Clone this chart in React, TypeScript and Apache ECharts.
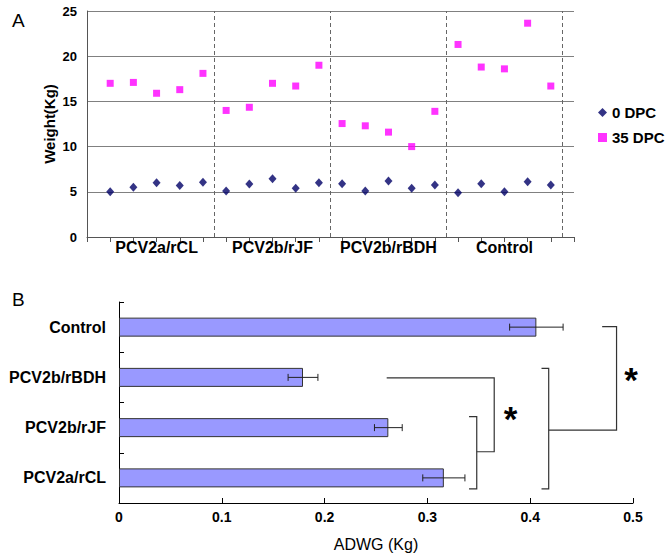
import React, { useEffect, useRef } from "react";
import * as echarts from "echarts";

// ---------- Panel A data ----------
const groups = ["PCV2a/rCL", "PCV2b/rJF", "PCV2b/rBDH", "Control"];
const groupCenters = [3, 8, 13, 18];
const separators = [5.5, 10.5, 15.5, 20.5];
const pigIndex = [1, 2, 3, 4, 5, 6, 7, 8, 9, 10, 11, 12, 13, 14, 15, 16, 17, 18, 19, 20];
const dpc0 = [5.0, 5.5, 6.0, 5.7, 6.05, 5.1, 5.85, 6.45, 5.4, 6.0, 5.9, 5.1, 6.2, 5.4, 5.75, 4.9, 5.9, 5.0, 6.1, 5.75];
const dpc35 = [17.0, 17.1, 15.9, 16.3, 18.1, 14.0, 14.35, 17.0, 16.7, 19.0, 12.55, 12.3, 11.6, 10.0, 13.9, 21.3, 18.8, 18.6, 23.65, 16.7];

// ---------- Panel B data ----------
const adwgCategories = ["PCV2a/rCL", "PCV2b/rJF", "PCV2b/rBDH", "Control"];
const adwgMean = [0.316, 0.262, 0.179, 0.406];
const adwgErr = [0.0205, 0.0135, 0.0145, 0.026];

// significance brackets, in data units (x: ADWG, y: category position)
const bracketPaths = [
  [[0.3405, 1.22], [0.348, 1.22], [0.348, -0.22], [0.3405, -0.22]],
  [[0.348, 0.52], [0.365, 0.52], [0.365, 1.99], [0.2604, 1.99]],
  [[0.411, 2.18], [0.418, 2.18], [0.418, -0.22], [0.411, -0.22]],
  [[0.418, 0.95], [0.484, 0.95], [0.484, 3.01], [0.47, 3.01]],
];
const starPoints = [[0.381, 1.24], [0.498, 2.01]];

const FONT = "'Liberation Sans', Arial, sans-serif";

export default function App() {
  const ref = useRef<HTMLDivElement>(null);
  useEffect(() => {
    if (!ref.current) return;
    const chart = echarts.init(ref.current, undefined, { renderer: "svg" });
    const option: any = {
      animation: false,
      textStyle: { fontFamily: FONT },
      graphic: [
        { type: "text", left: 12, top: 11, style: { text: "A", fontSize: 19, fontFamily: FONT, fill: "#000" } },
        { type: "text", left: 12, top: 290, style: { text: "B", fontSize: 19, fontFamily: FONT, fill: "#000" } },
        {
          type: "text",
          x: 49,
          y: 124,
          rotation: Math.PI / 2,
          style: {
            text: "Weight(Kg)",
            fontSize: 15,
            fontWeight: "bold",
            fontFamily: FONT,
            fill: "#000",
            align: "center",
            verticalAlign: "middle",
          },
        },
      ],
      legend: {
        orient: "vertical",
        left: 593,
        top: 100,
        itemWidth: 9,
        itemHeight: 9,
        itemGap: 10,
        textStyle: { fontSize: 15, fontWeight: "bold", color: "#000", fontFamily: FONT },
        data: ["0 DPC", "35 DPC"],
      },
      grid: [
        { left: 87, top: 11, width: 487, height: 226 },
        { left: 119, top: 302, width: 514, height: 201 },
      ],
      xAxis: [
        {
          type: "value",
          gridIndex: 0,
          min: 0,
          max: 21,
          interval: 1,
          axisLine: { show: true, onZero: false, lineStyle: { color: "#555" } },
          axisTick: { show: true, inside: false, length: 5, lineStyle: { color: "#555" } },
          splitLine: { show: false },
          axisLabel: {
            margin: 2,
            fontSize: 16,
            fontWeight: "bold",
            color: "#000",
            fontFamily: FONT,
            formatter: (v: number) => {
              const i = groupCenters.indexOf(v);
              return i >= 0 ? groups[i] : "";
            },
          },
        },
        {
          type: "value",
          gridIndex: 1,
          min: 0,
          max: 0.5,
          interval: 0.1,
          axisLine: { show: true, onZero: false, lineStyle: { color: "#000" } },
          axisTick: { show: true, inside: true, length: 5, lineStyle: { color: "#000" } },
          splitLine: { show: false },
          axisLabel: { margin: 7, fontSize: 14, fontWeight: "bold", color: "#000", fontFamily: FONT },
          name: "ADWG (Kg)",
          nameLocation: "middle",
          nameGap: 33,
          nameTextStyle: { fontSize: 16, color: "#000", fontFamily: FONT },
        },
      ],
      yAxis: [
        {
          type: "value",
          gridIndex: 0,
          min: 0,
          max: 25,
          interval: 5,
          axisLine: { show: true, lineStyle: { color: "#555" } },
          axisTick: { show: false },
          splitLine: { show: true, lineStyle: { color: "#808080" } },
          axisLabel: { margin: 10, fontSize: 13, fontWeight: "bold", color: "#000", fontFamily: FONT },
        },
        {
          type: "category",
          gridIndex: 1,
          data: adwgCategories,
          axisLine: { show: true, onZero: false, lineStyle: { color: "#000" } },
          axisTick: { show: true, inside: true, length: 5, alignWithLabel: false, lineStyle: { color: "#000" } },
          axisLabel: { margin: 13, fontSize: 16, fontWeight: "bold", color: "#000", fontFamily: FONT },
        },
        {
          type: "value",
          gridIndex: 1,
          min: -0.5,
          max: 3.5,
          show: false,
          axisLine: { show: false, onZero: false },
        },
      ],
      series: [
        {
          name: "0 DPC",
          type: "scatter",
          xAxisIndex: 0,
          yAxisIndex: 0,
          symbol: "diamond",
          symbolSize: [8, 9],
          itemStyle: { color: "#000066" },
          data: pigIndex.map((x, i) => [x, dpc0[i]]),
          markLine: {
            silent: true,
            symbol: "none",
            label: { show: false },
            lineStyle: { color: "#666", type: [4, 3], width: 1 },
            data: separators.map((v) => ({ xAxis: v })),
          },
        },
        {
          name: "35 DPC",
          type: "scatter",
          xAxisIndex: 0,
          yAxisIndex: 0,
          symbol: "rect",
          symbolSize: 7,
          itemStyle: { color: "#ff00ff" },
          data: pigIndex.map((x, i) => [x, dpc35[i]]),
        },
        {
          name: "ADWG",
          type: "bar",
          xAxisIndex: 1,
          yAxisIndex: 1,
          barWidth: 19,
          itemStyle: { color: "#9999ff", borderColor: "#333333", borderWidth: 1 },
          data: adwgMean,
        },
        {
          name: "err",
          type: "custom",
          xAxisIndex: 1,
          yAxisIndex: 1,
          z: 5,
          encode: { x: [1, 2], y: 0 },
          data: adwgMean.map((m, i) => [i, m - adwgErr[i], m + adwgErr[i]]),
          renderItem: (params: any, api: any) => {
            const idx = api.value(0);
            const p1 = api.coord([api.value(1), idx]);
            const p2 = api.coord([api.value(2), idx]);
            const h = 3.5;
            const st = { stroke: "#222", lineWidth: 1 };
            return {
              type: "group",
              children: [
                { type: "line", shape: { x1: p1[0], y1: p1[1], x2: p2[0], y2: p2[1] }, style: st },
                { type: "line", shape: { x1: p1[0], y1: p1[1] - h, x2: p1[0], y2: p1[1] + h }, style: st },
                { type: "line", shape: { x1: p2[0], y1: p2[1] - h, x2: p2[0], y2: p2[1] + h }, style: st },
              ],
            };
          },
        },
        {
          name: "brackets",
          type: "custom",
          xAxisIndex: 1,
          yAxisIndex: 2,
          clip: false,
          silent: true,
          data: bracketPaths.map((p, i) => [p[0][0], p[0][1], i]),
          renderItem: (params: any, api: any) => {
            const pts = bracketPaths[params.dataIndex].map((p) => api.coord(p));
            return {
              type: "polyline",
              shape: { points: pts },
              style: { stroke: "#333", lineWidth: 1.2, fill: "none" },
            };
          },
        },
        {
          name: "stars",
          type: "custom",
          xAxisIndex: 1,
          yAxisIndex: 2,
          clip: false,
          silent: true,
          data: starPoints,
          renderItem: (params: any, api: any) => {
            const pt = api.coord([api.value(0), api.value(1)]);
            return {
              type: "text",
              x: pt[0],
              y: pt[1] + 3,
              style: {
                text: "*",
                fontSize: 35,
                fontWeight: "bold",
                fontFamily: FONT,
                fill: "#000",
                align: "center",
                verticalAlign: "middle",
              },
            };
          },
        },
      ],
    };
    chart.setOption(option);
    return () => chart.dispose();
  }, []);
  return (
    <div
      ref={ref}
      style={{ position: "absolute", left: 0, top: 0, width: 670, height: 559, background: "#fff" }}
    />
  );
}
